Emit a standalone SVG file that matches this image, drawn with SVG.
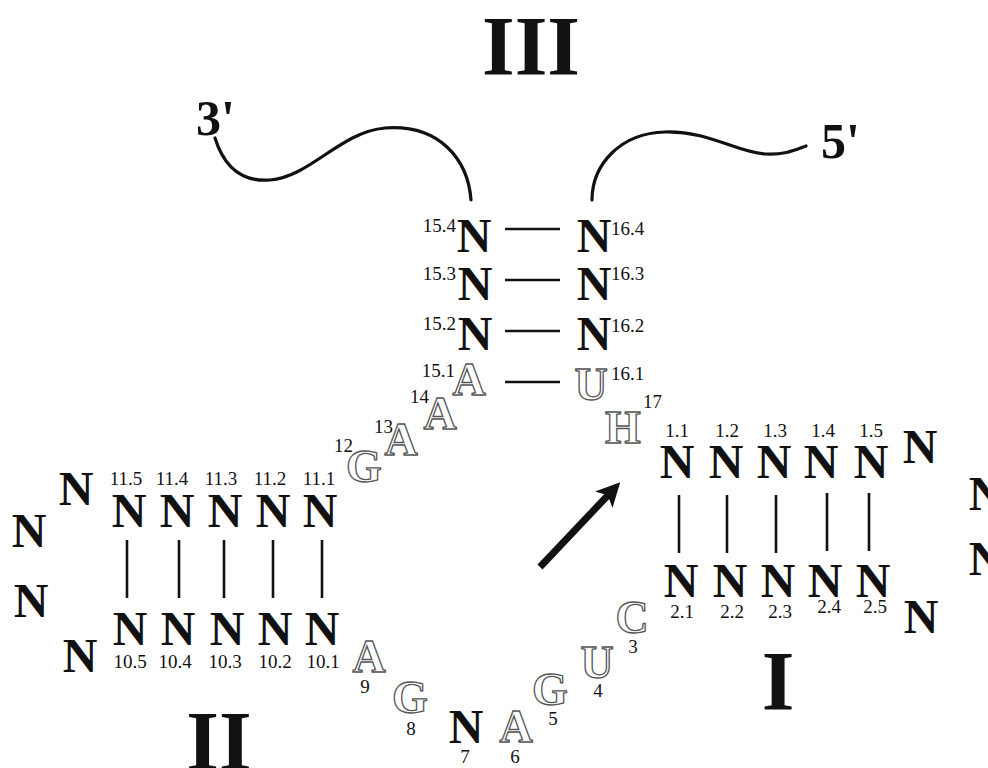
<svg xmlns="http://www.w3.org/2000/svg" width="988" height="768" viewBox="0 0 988 768">
  <style>
    .n { font-family: "Liberation Serif", "Times New Roman", serif; font-weight: bold; font-size: 48px; fill: #111; text-anchor: middle; }
    .o { font-family: "Liberation Serif", "Times New Roman", serif; font-weight: bold; font-size: 46px; fill: #fff; stroke: #555; stroke-width: 1.3; text-anchor: middle; }
    .lb { font-family: "Liberation Serif", "Times New Roman", serif; font-size: 19px; fill: #111; text-anchor: middle; }
    .le { text-anchor: end; }
    .ls { text-anchor: start; }
    .roman { font-family: "Liberation Serif", "Times New Roman", serif; font-weight: bold; font-size: 84px; fill: #111; text-anchor: middle; }
    .end { font-family: "Liberation Serif", "Times New Roman", serif; font-weight: bold; font-size: 50px; fill: #111; }
    .pair { stroke: #111; stroke-width: 2.6; fill: none; }
    .strand { stroke: #111; stroke-width: 3.2; fill: none; stroke-linecap: round; }
    .arrow { stroke: #111; stroke-width: 7; fill: none; }
  </style>
  <defs>
    <marker id="head" viewBox="0 0 24 24" refX="12" refY="12" markerWidth="24" markerHeight="24" markerUnits="userSpaceOnUse" orient="auto">
      <path d="M0,0 L24,12 L0,24 L6,12 Z" fill="#111"/>
    </marker>
  </defs>

  <rect width="988" height="768" fill="#fff"/>

  <!-- stem labels -->
  <g id="stem-labels">
    <text class="roman" x="531" y="75">III</text>
    <text class="roman" x="219" y="770">II</text>
    <text class="roman" x="778" y="710">I</text>
  </g>

  <!-- strand ends -->
  <g id="ends">
    <text class="end" x="196" y="135">3'</text>
    <text class="end" x="821" y="158">5'</text>
  </g>

  <!-- connectors: flanking strands, pairing bars, cleavage arrow -->
  <g id="connectors">
    <path class="strand" d="M215,138 C225,170 245,182 270,180 C310,177 340,132 385,128 C440,124 468,160 471,200"/>
    <path class="strand" d="M592,200 C592,165 620,133 665,132 C710,131 735,152 765,154 C785,155 795,150 806,146"/>
    <!-- stem III pairs -->
    <line class="pair" x1="505" y1="229" x2="560" y2="229"/>
    <line class="pair" x1="505" y1="280" x2="560" y2="280"/>
    <line class="pair" x1="505" y1="331" x2="560" y2="331"/>
    <line class="pair" x1="505" y1="382" x2="560" y2="382"/>
    <!-- stem II pairs -->
    <line class="pair" x1="127" y1="540" x2="127" y2="598"/>
    <line class="pair" x1="179" y1="540" x2="179" y2="598"/>
    <line class="pair" x1="224" y1="540" x2="224" y2="598"/>
    <line class="pair" x1="273" y1="540" x2="273" y2="598"/>
    <line class="pair" x1="322" y1="540" x2="322" y2="598"/>
    <!-- stem I pairs -->
    <line class="pair" x1="679" y1="495" x2="679" y2="553"/>
    <line class="pair" x1="727" y1="495" x2="727" y2="553"/>
    <line class="pair" x1="776" y1="495" x2="776" y2="553"/>
    <line class="pair" x1="827" y1="493" x2="827" y2="551"/>
    <line class="pair" x1="869" y1="493" x2="869" y2="551"/>
    <!-- cleavage site arrow -->
    <line class="arrow" x1="540" y1="567" x2="612" y2="491" marker-end="url(#head)"/>
  </g>

  <!-- stem III -->
  <g id="n15-4"><text class="n" x="474" y="252">N</text><text class="lb le" x="456" y="232">15.4</text></g>
  <g id="n15-3"><text class="n" x="475" y="300">N</text><text class="lb le" x="456" y="280">15.3</text></g>
  <g id="n15-2"><text class="n" x="475" y="350">N</text><text class="lb le" x="456" y="330">15.2</text></g>
  <g id="n15-1"><text class="o" x="469" y="395">A</text><text class="lb le" x="455" y="377">15.1</text></g>
  <g id="n16-4"><text class="n" x="594" y="252">N</text><text class="lb ls" x="611" y="235">16.4</text></g>
  <g id="n16-3"><text class="n" x="594" y="300">N</text><text class="lb ls" x="611" y="280">16.3</text></g>
  <g id="n16-2"><text class="n" x="594" y="350">N</text><text class="lb ls" x="611" y="332">16.2</text></g>
  <g id="n16-1"><text class="o" x="591" y="400">U</text><text class="lb ls" x="611" y="380">16.1</text></g>

  <!-- junction 12-14, 17 -->
  <g id="n12"><text class="o" x="364" y="482">G</text><text class="lb le" x="353" y="452">12</text></g>
  <g id="n13"><text class="o" x="401" y="455">A</text><text class="lb le" x="393" y="433">13</text></g>
  <g id="n14"><text class="o" x="440" y="429">A</text><text class="lb le" x="429" y="403">14</text></g>
  <g id="n17"><text class="o" x="623" y="443">H</text><text class="lb ls" x="643" y="408">17</text></g>

  <!-- stem II -->
  <g id="n11-5"><text class="n" x="129" y="527">N</text><text class="lb" x="126" y="485">11.5</text></g>
  <g id="n11-4"><text class="n" x="177" y="527">N</text><text class="lb" x="172" y="485">11.4</text></g>
  <g id="n11-3"><text class="n" x="225" y="527">N</text><text class="lb" x="221" y="485">11.3</text></g>
  <g id="n11-2"><text class="n" x="273" y="527">N</text><text class="lb" x="270" y="485">11.2</text></g>
  <g id="n11-1"><text class="n" x="320" y="527">N</text><text class="lb" x="319" y="485">11.1</text></g>
  <g id="n10-5"><text class="n" x="130" y="645">N</text><text class="lb" x="130" y="668">10.5</text></g>
  <g id="n10-4"><text class="n" x="178" y="645">N</text><text class="lb" x="175" y="668">10.4</text></g>
  <g id="n10-3"><text class="n" x="227" y="645">N</text><text class="lb" x="225" y="668">10.3</text></g>
  <g id="n10-2"><text class="n" x="275" y="645">N</text><text class="lb" x="275" y="668">10.2</text></g>
  <g id="n10-1"><text class="n" x="322" y="645">N</text><text class="lb" x="323" y="668">10.1</text></g>
  <g id="loop2-a"><text class="n" x="76" y="505">N</text></g>
  <g id="loop2-b"><text class="n" x="29" y="547">N</text></g>
  <g id="loop2-c"><text class="n" x="31" y="617">N</text></g>
  <g id="loop2-d"><text class="n" x="80" y="672">N</text></g>

  <!-- stem I -->
  <g id="n1-1"><text class="n" x="677" y="478">N</text><text class="lb" x="677" y="437">1.1</text></g>
  <g id="n1-2"><text class="n" x="726" y="478">N</text><text class="lb" x="727" y="437">1.2</text></g>
  <g id="n1-3"><text class="n" x="774" y="478">N</text><text class="lb" x="775" y="437">1.3</text></g>
  <g id="n1-4"><text class="n" x="821" y="478">N</text><text class="lb" x="823" y="437">1.4</text></g>
  <g id="n1-5"><text class="n" x="871" y="478">N</text><text class="lb" x="871" y="437">1.5</text></g>
  <g id="n2-1"><text class="n" x="681" y="597">N</text><text class="lb" x="682" y="618">2.1</text></g>
  <g id="n2-2"><text class="n" x="730" y="597">N</text><text class="lb" x="732" y="618">2.2</text></g>
  <g id="n2-3"><text class="n" x="778" y="597">N</text><text class="lb" x="780" y="618">2.3</text></g>
  <g id="n2-4"><text class="n" x="825" y="597">N</text><text class="lb" x="829" y="613">2.4</text></g>
  <g id="n2-5"><text class="n" x="873" y="597">N</text><text class="lb" x="875" y="613">2.5</text></g>
  <g id="loop1-a"><text class="n" x="920" y="463">N</text></g>
  <g id="loop1-b"><text class="n" x="986" y="510">N</text></g>
  <g id="loop1-c"><text class="n" x="986" y="575">N</text></g>
  <g id="loop1-d"><text class="n" x="921" y="633">N</text></g>

  <!-- catalytic core 3-9 -->
  <g id="n3"><text class="o" x="632" y="633">C</text><text class="lb" x="633" y="653">3</text></g>
  <g id="n4"><text class="o" x="597" y="678">U</text><text class="lb" x="598" y="697">4</text></g>
  <g id="n5"><text class="o" x="550" y="705">G</text><text class="lb" x="553" y="725">5</text></g>
  <g id="n6"><text class="o" x="516" y="742">A</text><text class="lb" x="515" y="763">6</text></g>
  <g id="n7"><text class="n" x="466" y="743">N</text><text class="lb" x="465" y="763">7</text></g>
  <g id="n8"><text class="o" x="410" y="713">G</text><text class="lb" x="411" y="735">8</text></g>
  <g id="n9"><text class="o" x="369" y="672">A</text><text class="lb" x="365" y="693">9</text></g>
</svg>
